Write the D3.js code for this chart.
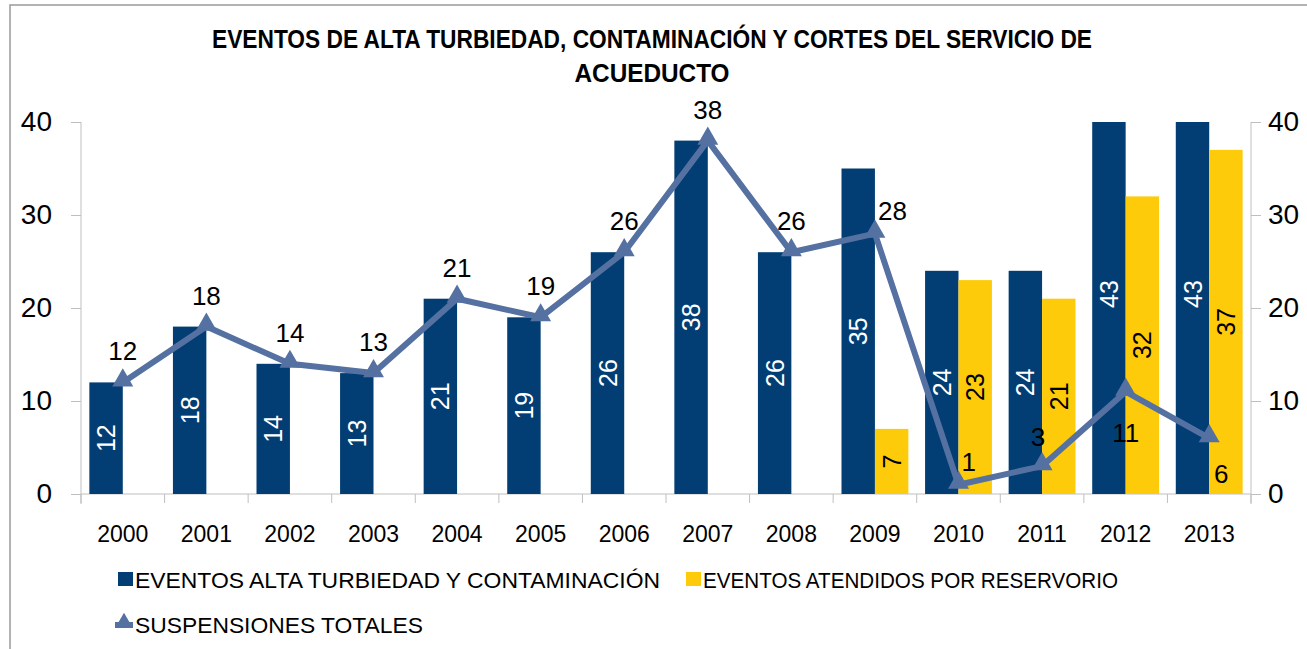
<html>
<head>
  <style>
    body { margin: 0; background: #fff; }
    text { font-family: "Liberation Sans", "DejaVu Sans", sans-serif; }
  </style>
  <script src="https://d3js.org/d3.v7.min.js"></script>
</head>
<body>
  <svg id="chart"></svg>
  <script type="text/javascript">
    // data
    var years = ["2000", "2001", "2002", "2003", "2004", "2005", "2006", "2007", "2008", "2009", "2010", "2011", "2012", "2013"]
    var turbiedad = [12, 18, 14, 13, 21, 19, 26, 38, 26, 35, 24, 24, 43, 43]
    var reservorio = [null, null, null, null, null, null, null, null, null, 7, 23, 21, 32, 37]
    var suspensiones = [12, 18, 14, 13, 21, 19, 26, 38, 26, 28, 1, 3, 11, 6]
    var yTicks = [0, 10, 20, 30, 40]
    var seriesNames = ["EVENTOS ALTA TURBIEDAD Y CONTAMINACIÓN", "EVENTOS ATENDIDOS POR RESERVORIO", "SUSPENSIONES TOTALES"]
    // where the line labels sit relative to their point
    var lineLabelPos = ["up", "up", "up", "up", "up", "up", "up", "up", "up", "upright", "upright", "upleft", "down", "downright"]

    var w = 1307
    var h = 649
    var padLeft = 81, padRight = 1251, padTop = 122, padBottom = 494
    var navy = "#023e74"
    var yellow = "#fecb0a"
    var lineColor = "#5571a2"
    var axisColor = "#bfbfbf"

    var svg = d3.select("#chart").attr("width", w).attr("height", h)

    // chart border
    svg.append("rect")
      .attr("x", 10).attr("y", 5)
      .attr("width", w).attr("height", h)
      .attr("fill", "none").attr("stroke", "#9a9a9a").attr("stroke-width", 1.5)

    // title
    svg.append("text")
      .attr("x", 652).attr("y", 48)
      .attr("text-anchor", "middle")
      .attr("textLength", 880).attr("lengthAdjust", "spacingAndGlyphs")
      .style("font-size", "25px").style("font-weight", "bold")
      .text("EVENTOS DE ALTA TURBIEDAD, CONTAMINACIÓN Y CORTES DEL SERVICIO DE")
    svg.append("text")
      .attr("x", 652).attr("y", 82)
      .attr("text-anchor", "middle")
      .attr("textLength", 155).attr("lengthAdjust", "spacingAndGlyphs")
      .style("font-size", "25px").style("font-weight", "bold")
      .text("ACUEDUCTO")

    var x = d3.scaleBand().domain(years).range([padLeft, padRight])
    var x1 = d3.scaleBand().domain(["a", "b"])
      .range([x.bandwidth() * 0.1, x.bandwidth() * 0.9])
    var y = d3.scaleLinear().domain([0, 40]).range([padBottom, padTop])

    svg.append("clipPath").attr("id", "plot")
      .append("rect")
      .attr("x", padLeft).attr("y", padTop)
      .attr("width", padRight - padLeft).attr("height", padBottom - padTop)

    // axes
    var yAxisL = d3.axisLeft(y).tickValues(yTicks).tickSize(10).tickPadding(19)
    var yAxisR = d3.axisRight(y).tickValues(yTicks).tickSize(10).tickPadding(7)

    var gL = svg.append("g").attr("transform", "translate(" + padLeft + ",0)").call(yAxisL)
    var gR = svg.append("g").attr("transform", "translate(" + padRight + ",0)").call(yAxisR)
    ;[gL, gR].forEach(function(g) {
      g.select(".domain").attr("stroke", axisColor).attr("d", "M0," + padTop + "V" + (padBottom + 10))
      g.selectAll(".tick line").attr("stroke", axisColor)
      g.selectAll(".tick text")
        .attr("fill", "#000")
        .style("font-size", "28px")
        .style("font-family", "'Liberation Sans', sans-serif")
    })

    // x axis
    var gx = svg.append("g")
    gx.append("line")
      .attr("x1", padLeft).attr("x2", padRight)
      .attr("y1", padBottom).attr("y2", padBottom)
      .attr("stroke", axisColor)
    gx.selectAll(".xtick")
      .data(years.concat(["end"]))
      .enter()
      .append("line")
      .attr("x1", function(d, i) { return padLeft + i * x.step() })
      .attr("x2", function(d, i) { return padLeft + i * x.step() })
      .attr("y1", padBottom).attr("y2", padBottom + 9)
      .attr("stroke", axisColor)
    gx.selectAll(".xlabel")
      .data(years)
      .enter()
      .append("text")
      .attr("x", function(d) { return x(d) + x.bandwidth() / 2 })
      .attr("y", 542)
      .attr("text-anchor", "middle")
      .style("font-size", "23px")
      .text(function(d) { return d })

    // bars
    var bars = svg.append("g").attr("clip-path", "url(#plot)")
    bars.selectAll(".navy")
      .data(turbiedad)
      .enter()
      .append("rect")
      .attr("x", function(d, i) { return x(years[i]) + x1("a") })
      .attr("y", function(d) { return y(d) })
      .attr("width", x1.bandwidth())
      .attr("height", function(d) { return padBottom - y(d) })
      .attr("fill", navy)

    var resData = reservorio.map(function(d, i) { return { v: d, i: i } })
      .filter(function(d) { return d.v != null })

    bars.selectAll(".yellow")
      .data(resData)
      .enter()
      .append("rect")
      .attr("x", function(d) { return x(years[d.i]) + x1("b") })
      .attr("y", function(d) { return y(d.v) })
      .attr("width", x1.bandwidth())
      .attr("height", function(d) { return padBottom - y(d.v) })
      .attr("fill", yellow)

    // line
    var line = d3.line()
      .x(function(d, i) { return x(years[i]) + x.bandwidth() / 2 })
      .y(function(d) { return y(d) })

    svg.append("path")
      .datum(suspensiones)
      .attr("d", line)
      .attr("fill", "none")
      .attr("stroke", lineColor)
      .attr("stroke-width", 6)
      .attr("stroke-linejoin", "round")

    var tri = d3.symbol().type(d3.symbolTriangle).size(190)
    svg.selectAll(".marker")
      .data(suspensiones)
      .enter()
      .append("path")
      .attr("d", tri)
      .attr("transform", function(d, i) {
        return "translate(" + (x(years[i]) + x.bandwidth() / 2) + "," + (y(d) - 2) + ")"
      })
      .attr("fill", lineColor)

    // bar labels (rotated, centred in the full-length bar, even when clipped)
    function barLabel(cx, v, col) {
      svg.append("text")
        .attr("transform", "translate(" + cx + "," + ((y(v) + padBottom) / 2) + ") rotate(-90)")
        .attr("text-anchor", "middle")
        .attr("dy", "0.36em")
        .attr("fill", col)
        .style("font-size", "25px")
        .text(v)
    }
    turbiedad.forEach(function(d, i) {
      barLabel(x(years[i]) + x1("a") + x1.bandwidth() / 2, d, "#fff")
    })
    resData.forEach(function(d) {
      barLabel(x(years[d.i]) + x1("b") + x1.bandwidth() / 2, d.v, "#000")
    })

    // line labels
    var offsets = {
      up: [0, -22], upright: [3, -14], upleft: [-4, -20], down: [0, 50], downright: [12, 45]
    }
    svg.selectAll(".linelabel")
      .data(suspensiones)
      .enter()
      .append("text")
      .attr("x", function(d, i) { return x(years[i]) + x.bandwidth() / 2 + offsets[lineLabelPos[i]][0] })
      .attr("y", function(d, i) { return y(d) + offsets[lineLabelPos[i]][1] })
      .attr("text-anchor", function(d, i) { return lineLabelPos[i] == "upright" ? "start" : "middle" })
      .style("font-size", "26px")
      .text(function(d) { return d })

    // legend
    var lg = svg.append("g")
    lg.append("rect").attr("x", 118).attr("y", 572).attr("width", 15).attr("height", 14).attr("fill", navy)
    lg.append("text").attr("x", 135).attr("y", 588)
      .attr("textLength", 525).attr("lengthAdjust", "spacingAndGlyphs")
      .style("font-size", "22px").text(seriesNames[0])
    lg.append("rect").attr("x", 686).attr("y", 572).attr("width", 15).attr("height", 14).attr("fill", yellow)
    lg.append("text").attr("x", 703).attr("y", 588)
      .attr("textLength", 415).attr("lengthAdjust", "spacingAndGlyphs")
      .style("font-size", "22px").text(seriesNames[1])
    lg.append("line").attr("x1", 115).attr("x2", 133).attr("y1", 625).attr("y2", 625)
      .attr("stroke", lineColor).attr("stroke-width", 6)
    lg.append("path").attr("d", d3.symbol().type(d3.symbolTriangle).size(110))
      .attr("transform", "translate(124,622)").attr("fill", lineColor)
    lg.append("text").attr("x", 135).attr("y", 633)
      .attr("textLength", 288).attr("lengthAdjust", "spacingAndGlyphs")
      .style("font-size", "22px").text(seriesNames[2])
  </script>
</body>
</html>
